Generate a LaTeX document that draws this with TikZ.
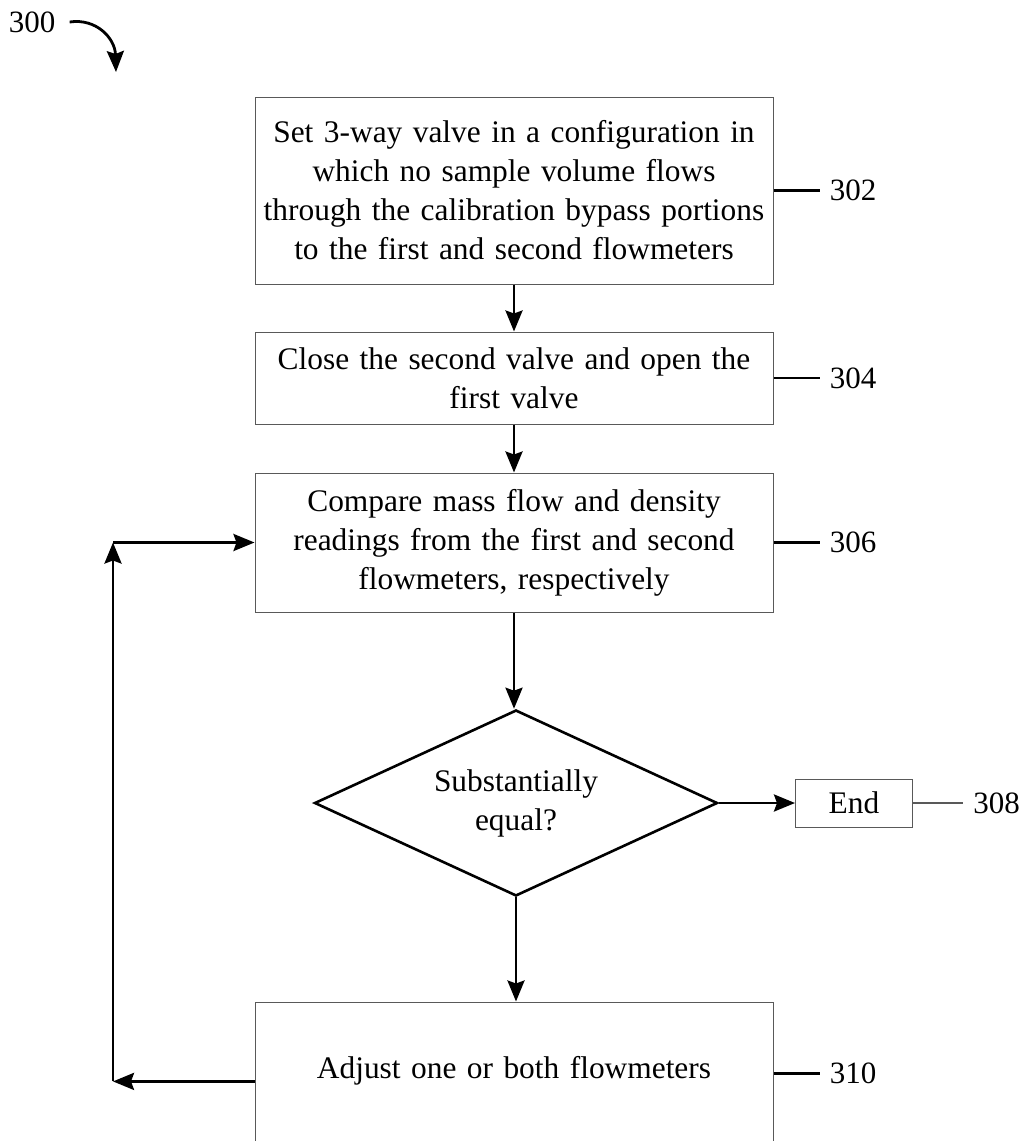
\documentclass[tikz,border=0pt]{standalone}
\usepackage{fontspec}
\setmainfont{Liberation Serif}
\usetikzlibrary{arrows.meta}
\usetikzlibrary{positioning}
\usetikzlibrary{shapes.geometric}
\definecolor{mgray}{rgb}{0.35, 0.35, 0.35}
\tikzset{stepbox/.style = {draw=mgray, line width=0.5pt,
                           minimum width=259pt, text width=259pt,
                           align=center, inner sep=0pt,
                           font=\fontsize{15.7}{19.5}\selectfont}}
\tikzset{flow/.style = {line width=1.4pt,
                        -{Stealth[length=10.5pt, width=8.5pt, inset=1.5pt]}}}
\tikzset{tag/.style = {font=\fontsize{15.5}{18}\selectfont, inner sep=2pt}}
\tikzset{tagline/.style = {line width=1.4pt}}

\begin{document}
\begin{tikzpicture}[x=0.5pt, y=-0.5pt, node distance=25pt]
      \clip (0, 0) rectangle (1022, 1141);

      \node [tag] (n300) at (32, 22) {300};
      \coordinate (n300tip) at (116, 72);
      \draw [flow] ([xshift=5pt]n300.east) .. controls (96, 18) and (115, 38) .. (n300tip);

      \node [stepbox, minimum height=93.5pt] (p302) at (514, 190.5)
            {Set 3-way valve in a configuration in\\ which no sample volume flows\\
             through the calibration bypass portions\\ to the first and second flowmeters};
      \node [stepbox, minimum height=46pt] (p304) at (514, 378)
            {Close the second valve and open the\\ first valve};
      \node [stepbox, minimum height=69.5pt] (p306) at (514, 542.5)
            {Compare mass flow and density\\ readings from the first and second\\
             flowmeters, respectively};
      \node [draw, line width=1.3pt, diamond, aspect=2.17, minimum width=201.5pt,
             minimum height=93pt, inner sep=0pt, align=center,
             font=\fontsize{15.7}{19.5}\selectfont] (pdec) at (516, 803)
            {Substantially\\ equal?};
      \node [draw=mgray, line width=0.5pt, minimum width=58.5pt, minimum height=24pt,
             font=\fontsize{15.7}{19.5}\selectfont] (pend) at (854, 803) {End};
      \node [stepbox, text height=38pt, text depth=100pt, anchor=base] (p310) at (514, 1078)
            {Adjust one or both flowmeters};

      % reference numerals
      \node [tag, right=26pt of p302] (n302) {302};
      \node [tag, right=26pt of p304] (n304) {304};
      \node [tag, right=26pt of p306] (n306) {306};
      \node [tag, right=28pt of pend] (n308) {308};
      \node [tag, right=26pt of p310.mid east] (n310) {310};
      \draw [tagline] (p302.east) -- ([xshift=-3pt]n302.west);
      \draw [tagline] (p304.east) -- ([xshift=-3pt]n304.west);
      \draw [tagline] (p306.east) -- ([xshift=-3pt]n306.west);
      \draw [mgray, line width=0.6pt] (pend.east) -- ([xshift=-3pt]n308.west);
      \draw [tagline] (p310.mid east) -- ([xshift=-3pt]n310.west);

      \draw [flow] (p302) -- (p304);
      \draw [flow] (p304) -- (p306);
      \draw [flow] (p306.south) -- (p306.south |- pdec.north);
      \draw [flow] (pdec.east) -- (pend.west);
      \draw [flow] (pdec.south) -- (pdec.south |- p310.north);

      % loop back
      \coordinate (loopx) at (113, 0);
      \coordinate (loopS) at ([yshift=-4pt]p310.mid west);
      \coordinate (loopB) at (loopS -| loopx);
      \coordinate (loopT) at (p306.west -| loopx);
      \draw [flow] (loopS) -- (loopB);
      \draw [flow] (loopB) -- (loopT);
      \draw [flow] (loopT) -- (p306.west);
    \end{tikzpicture}
\end{document}
